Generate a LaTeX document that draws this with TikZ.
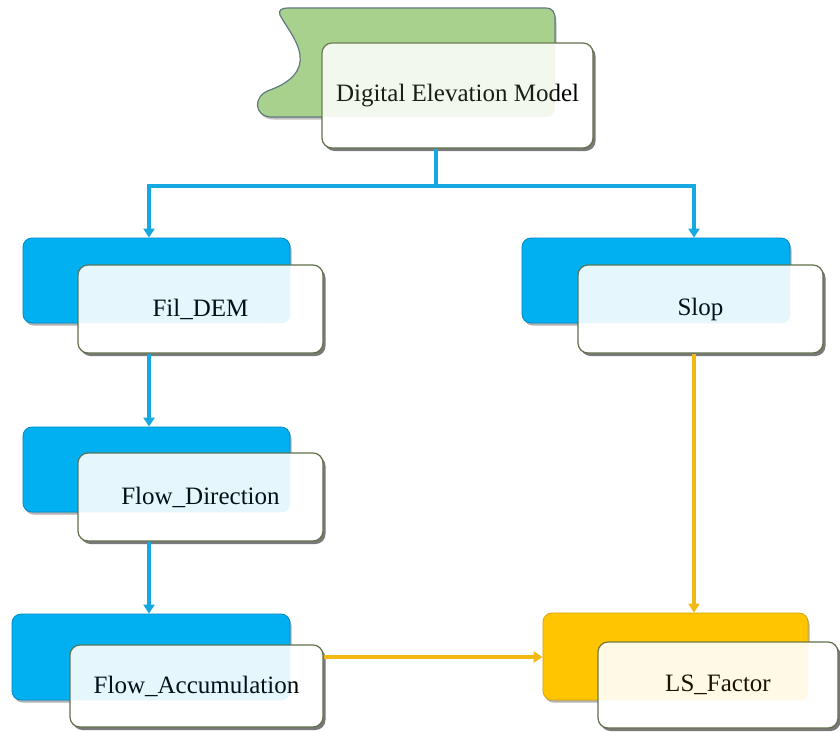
\documentclass[tikz,border=0pt]{standalone}
\usepackage{fontspec}
\setmainfont{Liberation Serif}
\usetikzlibrary{arrows.meta, positioning, shadows}
\definecolor{boxblue}{RGB}{0,176,240}
\definecolor{rimblue}{RGB}{0,135,195}
\definecolor{boxgold}{RGB}{255,198,0}
\definecolor{rimgold}{RGB}{215,160,0}
\definecolor{demgreen}{RGB}{169,209,142}
\definecolor{rimgreen}{RGB}{90,112,128}
\definecolor{lineblue}{RGB}{22,168,224}
\definecolor{linegold}{RGB}{242,184,20}
\definecolor{rimolive}{RGB}{98,112,74}
\newcommand{\demflagpath}{(288,8) -- (545,8) .. controls (553,8) and (555,12) .. (555,20) -- (555,106) .. controls (555,114) and (552,117) .. (545,117) -- (272,117) .. controls (254,117) and (252,96) .. (270,90) .. controls (292,82) and (302,70) .. (300,55) .. controls (298,40) and (285,25) .. (280,15) .. controls (278,10) and (282,8) .. (288,8) -- cycle}

\begin{document}
\begin{tikzpicture}[x=1pt, y=-1pt,
    backbox/.style={rectangle, rounded corners=9pt, minimum width=267pt, minimum height=85pt,
        drop shadow={shadow xshift=1.5pt, shadow yshift=-2.5pt, fill=black!60, opacity=0.5}},
    bluebox/.style={backbox, fill=boxblue, draw=rimblue, line width=0.8pt},
    goldbox/.style={backbox, fill=boxgold, draw=rimgold, line width=0.8pt},
    labelbox/.style={rectangle, rounded corners=10pt, minimum width=245pt, minimum height=88pt,
        fill=white, draw=rimolive, line width=1.2pt, font=\fontsize{25}{29}\selectfont,
        drop shadow={shadow xshift=2.5pt, shadow yshift=-3pt, fill=black!75, opacity=0.7}},
    blueline/.style={draw=lineblue, line width=3.2pt},
    goldline/.style={draw=linegold, line width=3.2pt},
    tip/.style={-{Triangle[length=9pt, width=11pt]}}]
  \useasboundingbox (0,0) rectangle (840,731);

  % DEM flag
  \draw[fill=demgreen, draw=rimgreen, line width=1.2pt,
        drop shadow={shadow xshift=1.5pt, shadow yshift=-2.5pt, fill=black!60, opacity=0.4}] \demflagpath;
  \node[labelbox, minimum width=271pt, minimum height=105pt] (dem) at (457.5,95.5) {Digital Elevation Model};

  % back boxes
  \node[bluebox] (filback) at (156.5,280.5) {};
  \node[bluebox, minimum width=268pt] (slopback) at (656,280.5) {};
  \node[bluebox] (dirback) at (156.5,469.5) {};
  \node[bluebox, minimum width=278pt, minimum height=86pt] (accback) at (151,657) {};
  \node[goldbox, minimum width=265pt, minimum height=87pt] (lsback) at (675.5,656.5) {};

  % label boxes
  \node[labelbox] (fil) at (200.5,309) {Fil\_DEM};
  \node[labelbox] (slop) at (700.5,309) {Slop};
  \node[labelbox] (dir) at (200.5,497) {Flow\_Direction};
  \node[labelbox, minimum width=253pt, minimum height=82pt] (acc) at (196.5,686) {Flow\_Accumulation};
  \node[labelbox, minimum width=240pt, minimum height=86pt] (ls) at (718,685) {LS\_Factor};

  % faint tint where the boxes overlap
  \foreach \b/\c in {filback/boxblue, slopback/boxblue, dirback/boxblue, accback/boxblue, lsback/boxgold}
    \fill[\c, fill opacity=0.1, rounded corners=9pt] (\b.south west) rectangle (\b.north east);
  \fill[demgreen, fill opacity=0.15] \demflagpath;

  % connectors
  \coordinate (split) at (436,186);
  \coordinate (leftx) at (149,0);
  \coordinate (rightx) at (694,0);
  \coordinate (accline) at (0,657);
  \draw[blueline] (dem.south -| split) -- (split);
  \draw[blueline, tip] (split) -| (filback.north -| leftx);
  \draw[blueline, tip] (split) -| (slopback.north -| rightx);
  \draw[blueline, tip] (fil.south -| leftx) -- (dirback.north -| leftx);
  \draw[blueline, tip] (dir.south -| leftx) -- (accback.north -| leftx);
  \draw[goldline, tip] (slop.south -| rightx) -- (lsback.north -| rightx);
  \draw[goldline, tip] (acc.east |- accline) -- (lsback.west |- accline);
\end{tikzpicture}
\end{document}
